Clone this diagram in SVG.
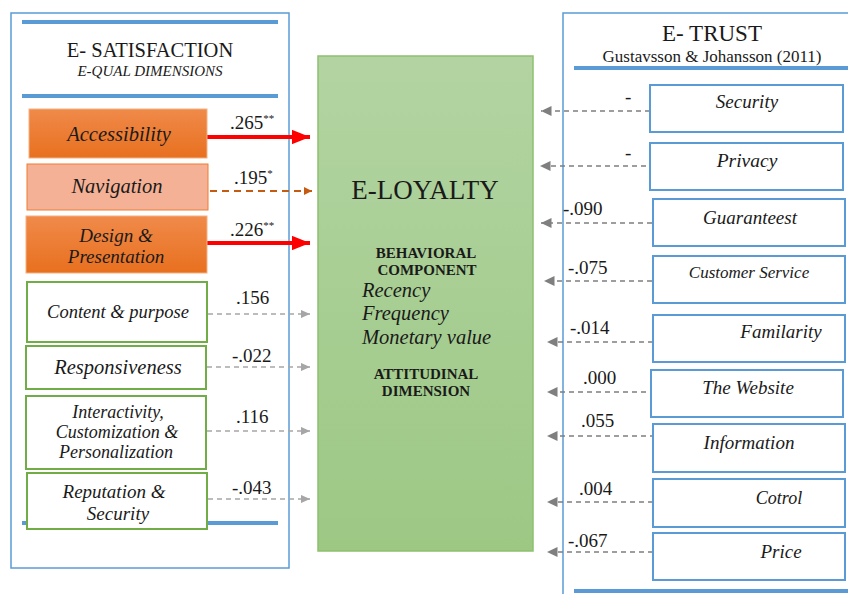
<svg xmlns="http://www.w3.org/2000/svg" width="848" height="594" viewBox="0 0 848 594" font-family="'Liberation Serif', 'DejaVu Serif', 'Times New Roman', serif">
<defs>
<linearGradient id="gOr" x1="0" y1="0" x2="0" y2="1"><stop offset="0" stop-color="#F08A4A"/><stop offset="1" stop-color="#E8701F"/></linearGradient>
<linearGradient id="gGr" x1="0" y1="0" x2="0" y2="1"><stop offset="0" stop-color="#B3D4A2"/><stop offset="1" stop-color="#9CC884"/></linearGradient>
<marker id="mRed" markerWidth="4.5" markerHeight="3.6" refX="4.5" refY="1.8" orient="auto" markerUnits="strokeWidth"><path d="M0,0 L4.5,1.8 L0,3.6 Z" fill="#FF0000"/></marker>
<marker id="mOr" markerWidth="4" markerHeight="4" refX="4" refY="2" orient="auto" markerUnits="strokeWidth"><path d="M0,0 L4,2 L0,4 Z" fill="#C55A11"/></marker>
<marker id="mLg" markerWidth="6" markerHeight="5.4" refX="6" refY="2.7" orient="auto" markerUnits="strokeWidth"><path d="M0,0 L6,2.7 L0,5.4 Z" fill="#A6A6A6"/></marker>
<marker id="mDg" markerWidth="7" markerHeight="6.6" refX="7" refY="3.3" orient="auto" markerUnits="strokeWidth"><path d="M0,0 L7,3.3 L0,6.6 Z" fill="#7F7F7F"/></marker>
</defs>
<style>
text{font-family:"Liberation Serif","DejaVu Serif","Times New Roman",serif}
.panel{fill:#fff;stroke:#5B9BD5;stroke-width:1.5}
.bar{stroke:#5B9BD5;stroke-width:4}
.t{fill:#1a1a1a}
.i{font-style:italic}
.or{fill:url(#gOr);stroke:#F4B183;stroke-width:1}
.nav{fill:#F4B195;stroke:#ED7D31;stroke-width:1}
.gb{fill:#fff;stroke:#70AD47;stroke-width:2}
.bb{fill:#fff;stroke:#5B9BD5;stroke-width:2}
.red{stroke:#FF0000;stroke-width:4;fill:none}
.ord{stroke:#C55A11;stroke-width:2;stroke-dasharray:7,5;fill:none}
.lg{stroke:#A6A6A6;stroke-width:1.5;stroke-dasharray:5,4;fill:none}
.dg{stroke:#7F7F7F;stroke-width:1.5;stroke-dasharray:5,4;fill:none}
.lbl{fill:#1a1a1a}
.bt{font-style:italic;fill:#1a1a1a;text-anchor:middle}
.cap{font-weight:bold;fill:#1a1a1a;text-anchor:middle}
</style>
<rect width="848" height="594" fill="#fff"/>
<g id="satisfaction-panel">
<rect class="panel" x="11" y="13" width="278" height="555"/>
<line class="bar" x1="22" y1="22" x2="278" y2="22"/>
<line class="bar" x1="22" y1="96" x2="278" y2="96"/>
<line class="bar" x1="22" y1="523" x2="278" y2="523"/>
<text class="t" x="150" y="57" font-size="20.5" text-anchor="middle">E- SATISFACTION</text>
<text class="t i" x="150" y="76" font-size="15" text-anchor="middle">E-QUAL DIMENSIONS</text>
</g>
<g id="trust-panel">
<rect class="panel" x="563" y="13" width="300" height="600"/>
<line class="bar" x1="574" y1="68" x2="848" y2="68"/>
<line class="bar" x1="574" y1="591" x2="848" y2="591"/>
<text class="t" x="712" y="41" font-size="23" text-anchor="middle">E- TRUST</text>
<text class="t" x="712" y="62" font-size="17" text-anchor="middle">Gustavsson &amp; Johansson (2011)</text>
</g>
<g id="connectors" font-size="19">
<line class="red" x1="207" y1="137" x2="310" y2="137" marker-end="url(#mRed)"/>
<line class="ord" x1="210" y1="191" x2="312" y2="191" marker-end="url(#mOr)"/>
<line class="red" x1="207" y1="243" x2="310" y2="243" marker-end="url(#mRed)"/>
<line class="lg" x1="208" y1="314" x2="310" y2="314" marker-end="url(#mLg)"/>
<line class="lg" x1="207" y1="367" x2="310" y2="367" marker-end="url(#mLg)"/>
<line class="lg" x1="207" y1="431" x2="310" y2="431" marker-end="url(#mLg)"/>
<line class="lg" x1="208" y1="499" x2="310" y2="499" marker-end="url(#mLg)"/>
<line class="dg" x1="650" y1="111" x2="541" y2="111" marker-end="url(#mDg)"/>
<line class="dg" x1="646" y1="166" x2="540" y2="166" marker-end="url(#mDg)"/>
<line class="dg" x1="652" y1="223" x2="541" y2="223" marker-end="url(#mDg)"/>
<line class="dg" x1="652" y1="281" x2="544" y2="281" marker-end="url(#mDg)"/>
<line class="dg" x1="653" y1="342" x2="547" y2="342" marker-end="url(#mDg)"/>
<line class="dg" x1="655" y1="392" x2="547" y2="392" marker-end="url(#mDg)"/>
<line class="dg" x1="655" y1="436" x2="547" y2="436" marker-end="url(#mDg)"/>
<line class="dg" x1="653" y1="502" x2="547" y2="502" marker-end="url(#mDg)"/>
<line class="dg" x1="653" y1="552" x2="547" y2="552" marker-end="url(#mDg)"/>
<text class="lbl" x="230" y="129">.265<tspan font-size="11" dy="-7">**</tspan></text>
<text class="lbl" x="234" y="184">.195<tspan font-size="11" dy="-7">*</tspan></text>
<text class="lbl" x="230" y="236">.226<tspan font-size="11" dy="-7">**</tspan></text>
<text class="lbl" x="236" y="304">.156</text>
<text class="lbl" x="232" y="362">-.022</text>
<text class="lbl" x="236" y="423">.116</text>
<text class="lbl" x="232" y="494">-.043</text>
<text class="lbl" x="625" y="103">-</text>
<text class="lbl" x="625" y="159">-</text>
<text class="lbl" x="563" y="215">-.090</text>
<text class="lbl" x="568" y="274">-.075</text>
<text class="lbl" x="570" y="334">-.014</text>
<text class="lbl" x="583" y="384">.000</text>
<text class="lbl" x="581" y="427">.055</text>
<text class="lbl" x="579" y="495">.004</text>
<text class="lbl" x="568" y="547">-.067</text>
</g>
<g id="accessibility"><rect class="or" x="29" y="109" width="178" height="49"/><text class="bt" x="119" y="141" font-size="20.5">Accessibility</text></g>
<g id="navigation"><rect class="nav" x="27" y="164" width="181" height="46"/><text class="bt" x="117" y="193" font-size="20.5">Navigation</text></g>
<g id="design"><rect class="or" x="26" y="216" width="181" height="57"/><text class="bt" x="116" y="242" font-size="19">Design &amp;</text><text class="bt" x="116" y="263" font-size="19">Presentation</text></g>
<g id="content"><rect class="gb" x="27" y="282" width="180" height="60"/><text class="bt" x="118" y="318" font-size="18.5">Content &amp; purpose</text></g>
<g id="responsiveness"><rect class="gb" x="26" y="346" width="180" height="43"/><text class="bt" x="118" y="374" font-size="20.5">Responsiveness</text></g>
<g id="interactivity"><rect class="gb" x="26" y="396" width="180" height="73"/><text class="bt" x="118" y="418" font-size="18">Interactivity,</text><text class="bt" x="117" y="438" font-size="18">Customization &amp;</text><text class="bt" x="116" y="458" font-size="18">Personalization</text></g>
<g id="reputation"><rect class="gb" x="27" y="473" width="180" height="56"/><text class="bt" x="114" y="498" font-size="19">Reputation &amp;</text><text class="bt" x="118" y="520" font-size="19">Security</text></g>
<g id="eloyalty">
<rect x="318" y="56" width="215" height="495" fill="url(#gGr)" stroke="#8DC06F" stroke-width="1.5"/>
<text class="t" x="425" y="199" font-size="27" text-anchor="middle">E-LOYALTY</text>
<text class="cap" x="426" y="258" font-size="15">BEHAVIORAL</text>
<text class="cap" x="427" y="275" font-size="15">COMPONENT</text>
<text class="t i" x="362" y="297" font-size="20.5">Recency</text>
<text class="t i" x="362" y="320" font-size="20.5">Frequency</text>
<text class="t i" x="362" y="344" font-size="20.5">Monetary value</text>
<text class="cap" x="426" y="379" font-size="15">ATTITUDINAL</text>
<text class="cap" x="426" y="396" font-size="15">DIMENSION</text>
</g>
<g id="security"><rect class="bb" x="650" y="85" width="193" height="47"/><text class="bt" x="747" y="108" font-size="19">Security</text></g>
<g id="privacy"><rect class="bb" x="650" y="143" width="193" height="47"/><text class="bt" x="747" y="167" font-size="19.5">Privacy</text></g>
<g id="guaranteest"><rect class="bb" x="653" y="199" width="192" height="47"/><text class="bt" x="750" y="224" font-size="19">Guaranteest</text></g>
<g id="customer-service"><rect class="bb" x="653" y="256" width="192" height="47"/><text class="bt" x="749" y="278" font-size="17">Customer Service</text></g>
<g id="familarity"><rect class="bb" x="653" y="315" width="192" height="47"/><text class="bt" x="781" y="338" font-size="19">Familarity</text></g>
<g id="website"><rect class="bb" x="651" y="370" width="192" height="47"/><text class="bt" x="748" y="394" font-size="19">The Website</text></g>
<g id="information"><rect class="bb" x="653" y="424" width="192" height="48"/><text class="bt" x="749" y="449" font-size="19">Information</text></g>
<g id="cotrol"><rect class="bb" x="653" y="479" width="192" height="48"/><text class="bt" x="779" y="504" font-size="18">Cotrol</text></g>
<g id="price"><rect class="bb" x="653" y="533" width="192" height="47"/><text class="bt" x="781" y="558" font-size="19">Price</text></g>
</svg>
